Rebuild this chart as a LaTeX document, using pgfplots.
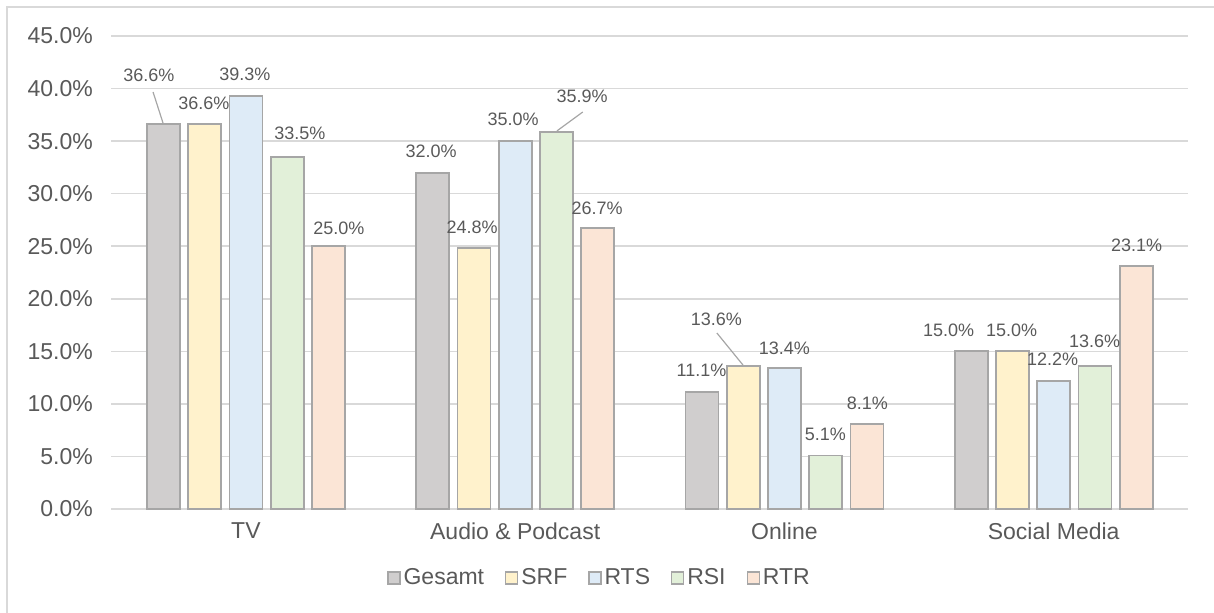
\documentclass[border=0pt]{standalone}
\usepackage{pgfplots}
\usepackage{pgfplotstable}
\pgfplotsset{compat=1.18}
\usepackage{fontspec}
\setmainfont{Liberation Sans}
\definecolor{txt}{HTML}{595959}
\definecolor{grd}{HTML}{D9D9D9}
\definecolor{brd}{HTML}{A6A6A6}
\definecolor{cG}{HTML}{D0CECE}
\definecolor{cS}{HTML}{FFF2CC}
\definecolor{cT}{HTML}{DEEBF7}
\definecolor{cR}{HTML}{E2F0D9}
\definecolor{cM}{HTML}{FBE5D6}

% x = category index, y = value, dx/dy = label offset in px
\pgfplotstableread{
x y dx dy
0 36.6 -14.5 49.3
1 32.0 -1.5 21.7
2 11.1 -0.5 22.3
3 15.0 -22.5 21.35
}\tG
\pgfplotstableread{
x y dx dy
0 36.6 -0.75 21.3
1 24.8 -1.75 21.4
2 13.6 -26.75 47.1
3 15.0 -0.75 21.35
}\tS
\pgfplotstableread{
x y dx dy
0 39.3 -1 22
1 35.0 -2 22.15
2 13.4 0 20.2
3 12.2 -1 21.8
}\tT
\pgfplotstableread{
x y dx dy
0 33.5 12.75 23.9
1 35.9 25.75 35.7
2 5.1 -0.25 21.4
3 13.6 -0.25 25.1
}\tR
\pgfplotstableread{
x y dx dy
0 25.0 10.5 18.25
1 26.7 -0.5 20.4
2 8.1 0.5 20.9
3 23.1 0.5 21.2
}\tM

\pgfplotsset{
  mybar/.style={
    ybar, bar width=0.1225, bar shift=#1,
    draw=brd, line width=0.9pt,
    nodes near coords={\pgfmathprintnumber[fixed,fixed zerofill,precision=1]{\pgfplotspointmeta}\%},
    visualization depends on={\thisrow{dx} \as \dx},
    visualization depends on={\thisrow{dy} \as \dy},
    every node near coord/.append style={anchor=center,
      shift={(axis direction cs:#1,0)},
      xshift={\dx*0.5pt}, yshift={\dy*0.5pt},
      font=\fontsize{9}{10}\selectfont, text=txt, inner sep=0pt, draw=none},
    legend image code/.code={\draw[##1,/tikz/.cd,line width=0.6pt,draw=brd] (0pt,-3pt) rectangle (6pt,3pt);},
  },
}

\begin{document}
\begin{tikzpicture}
\useasboundingbox (0,0) rectangle (607pt,-306pt);
\draw[grd, line width=1pt] (3.5pt,-320pt) -- (3.5pt,-3.5pt) -- (620pt,-3.5pt);
\begin{axis}[
  at={(55.65pt,-254.5pt)}, anchor=south west,
  scale only axis, width=538.5pt, height=236.5pt,
  xmin=-0.5, xmax=3.5, ymin=0, ymax=45,
  ytick={0,5,...,45},
  xtick={0,1,2,3},
  xticklabels={TV,Audio \& Podcast,Online,Social Media},
  ymajorgrids, grid style={grd, line width=0.8pt},
  axis line style={draw=none},
  major tick length=0pt,
  /pgf/number format/assume math mode=true,
  tick label style={font=\fontsize{11.5}{13}\selectfont, text=txt},
  yticklabel={\pgfmathprintnumber[fixed,fixed zerofill,precision=1]{\tick}\%},
  yticklabel style={xshift=-5.7pt},
  xticklabel style={yshift=-3.5pt},
  legend columns=5,
  legend style={at={(0.4538,-0.1459)}, anchor=center, draw=none, fill=none,
    font=\fontsize{11.5}{13}\selectfont, text=txt,
    /tikz/every even column/.append style={column sep=9pt},
    nodes={inner sep=1.5pt}},
  clip=false,
]
\addplot[mybar=-0.3064, fill=cG] table[x=x,y=y]{\tG};
\addplot[mybar=-0.1532, fill=cS] table[x=x,y=y]{\tS};
\addplot[mybar=0, fill=cT] table[x=x,y=y]{\tT};
\addplot[mybar=0.1532, fill=cR] table[x=x,y=y]{\tR};
\addplot[mybar=0.3064, fill=cM] table[x=x,y=y]{\tM};
\legend{Gesamt,SRF,RTS,RSI,RTR}
% leader lines
\draw[brd, line width=0.6pt] (axis cs:-0.345,39.68) -- (axis cs:-0.308,36.73);
\draw[brd, line width=0.6pt] (axis cs:1.251,37.77) -- (axis cs:1.155,35.97);
\draw[brd, line width=0.6pt] (axis cs:1.749,16.75) -- (axis cs:1.846,13.70);
\end{axis}
\end{tikzpicture}
\end{document}
